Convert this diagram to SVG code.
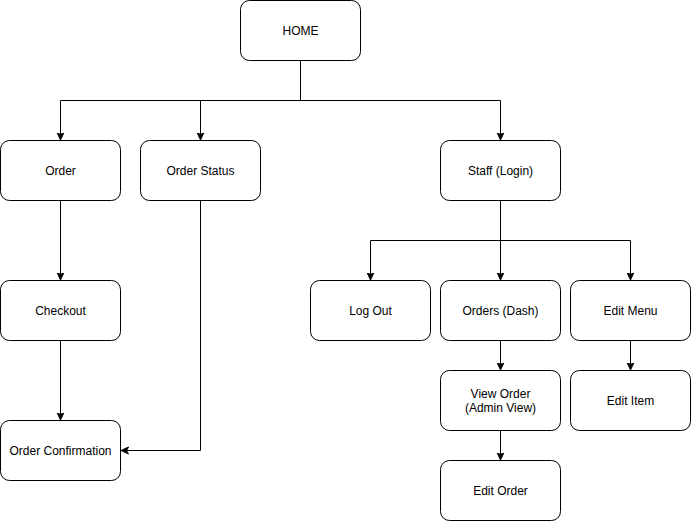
<svg xmlns="http://www.w3.org/2000/svg" width="691" height="522" viewBox="0 0 691 522">
<style>
.n rect{fill:#fff;stroke:#000;stroke-width:1}
.n text{font-family:"Liberation Sans",Arial,Helvetica,sans-serif;font-size:12px;fill:#000;text-anchor:middle;dominant-baseline:central}
.c path{fill:none;stroke:#000;stroke-width:1}
</style>
<defs>
<marker id="ah" markerWidth="10" markerHeight="10" refX="7" refY="4" orient="auto" markerUnits="userSpaceOnUse">
<path d="M0,0.5 L7.5,4 L0,7.5 L2,4 Z" fill="#000" stroke="#000" stroke-width="1"/>
</marker>
</defs>
<rect width="691" height="522" fill="#fff"/>
<g id="connectors" class="c">
<path d="M300.5,60.5 V100.5 H60.5 V139.5" marker-end="url(#ah)"/>
<path d="M300.5,100.5 H200.5 V139.5" marker-end="url(#ah)"/>
<path d="M300.5,100.5 H500.5 V139.5" marker-end="url(#ah)"/>
<path d="M60.5,200.5 V279.5" marker-end="url(#ah)"/>
<path d="M60.5,340.5 V419.5" marker-end="url(#ah)"/>
<path d="M200.5,200.5 V450.5 H121.5" marker-end="url(#ah)"/>
<path d="M500.5,200.5 V240.5 H370.5 V279.5" marker-end="url(#ah)"/>
<path d="M500.5,240.5 V279.5" marker-end="url(#ah)"/>
<path d="M500.5,240.5 H630.5 V279.5" marker-end="url(#ah)"/>
<path d="M500.5,340.5 V369.5" marker-end="url(#ah)"/>
<path d="M630.5,340.5 V369.5" marker-end="url(#ah)"/>
<path d="M500.5,430.5 V459.5" marker-end="url(#ah)"/>
</g>
<g id="home" class="n"><rect x="240.5" y="0.5" width="120" height="60" rx="9"/><text x="300.5" y="30.5">HOME</text></g>
<g id="order" class="n"><rect x="0.5" y="140.5" width="120" height="60" rx="9"/><text x="60.5" y="170.5">Order</text></g>
<g id="order-status" class="n"><rect x="140.5" y="140.5" width="120" height="60" rx="9"/><text x="200.5" y="170.5">Order Status</text></g>
<g id="staff-login" class="n"><rect x="440.5" y="140.5" width="120" height="60" rx="9"/><text x="500.5" y="170.5">Staff (Login)</text></g>
<g id="checkout" class="n"><rect x="0.5" y="280.5" width="120" height="60" rx="9"/><text x="60.5" y="310.5">Checkout</text></g>
<g id="order-confirmation" class="n"><rect x="0.5" y="420.5" width="120" height="60" rx="9"/><text x="60.5" y="450.5">Order Confirmation</text></g>
<g id="log-out" class="n"><rect x="310.5" y="280.5" width="120" height="60" rx="9"/><text x="370.5" y="310.5">Log Out</text></g>
<g id="orders-dash" class="n"><rect x="440.5" y="280.5" width="120" height="60" rx="9"/><text x="500.5" y="310.5">Orders (Dash)</text></g>
<g id="edit-menu" class="n"><rect x="570.5" y="280.5" width="120" height="60" rx="9"/><text x="630.5" y="310.5">Edit Menu</text></g>
<g id="view-order" class="n"><rect x="440.5" y="370.5" width="120" height="60" rx="9"/><text x="500.5" y="393.5">View Order</text><text x="500.5" y="407.5">(Admin View)</text></g>
<g id="edit-item" class="n"><rect x="570.5" y="370.5" width="120" height="60" rx="9"/><text x="630.5" y="400.5">Edit Item</text></g>
<g id="edit-order" class="n"><rect x="440.5" y="460.5" width="120" height="60" rx="9"/><text x="500.5" y="490.5">Edit Order</text></g>
</svg>
